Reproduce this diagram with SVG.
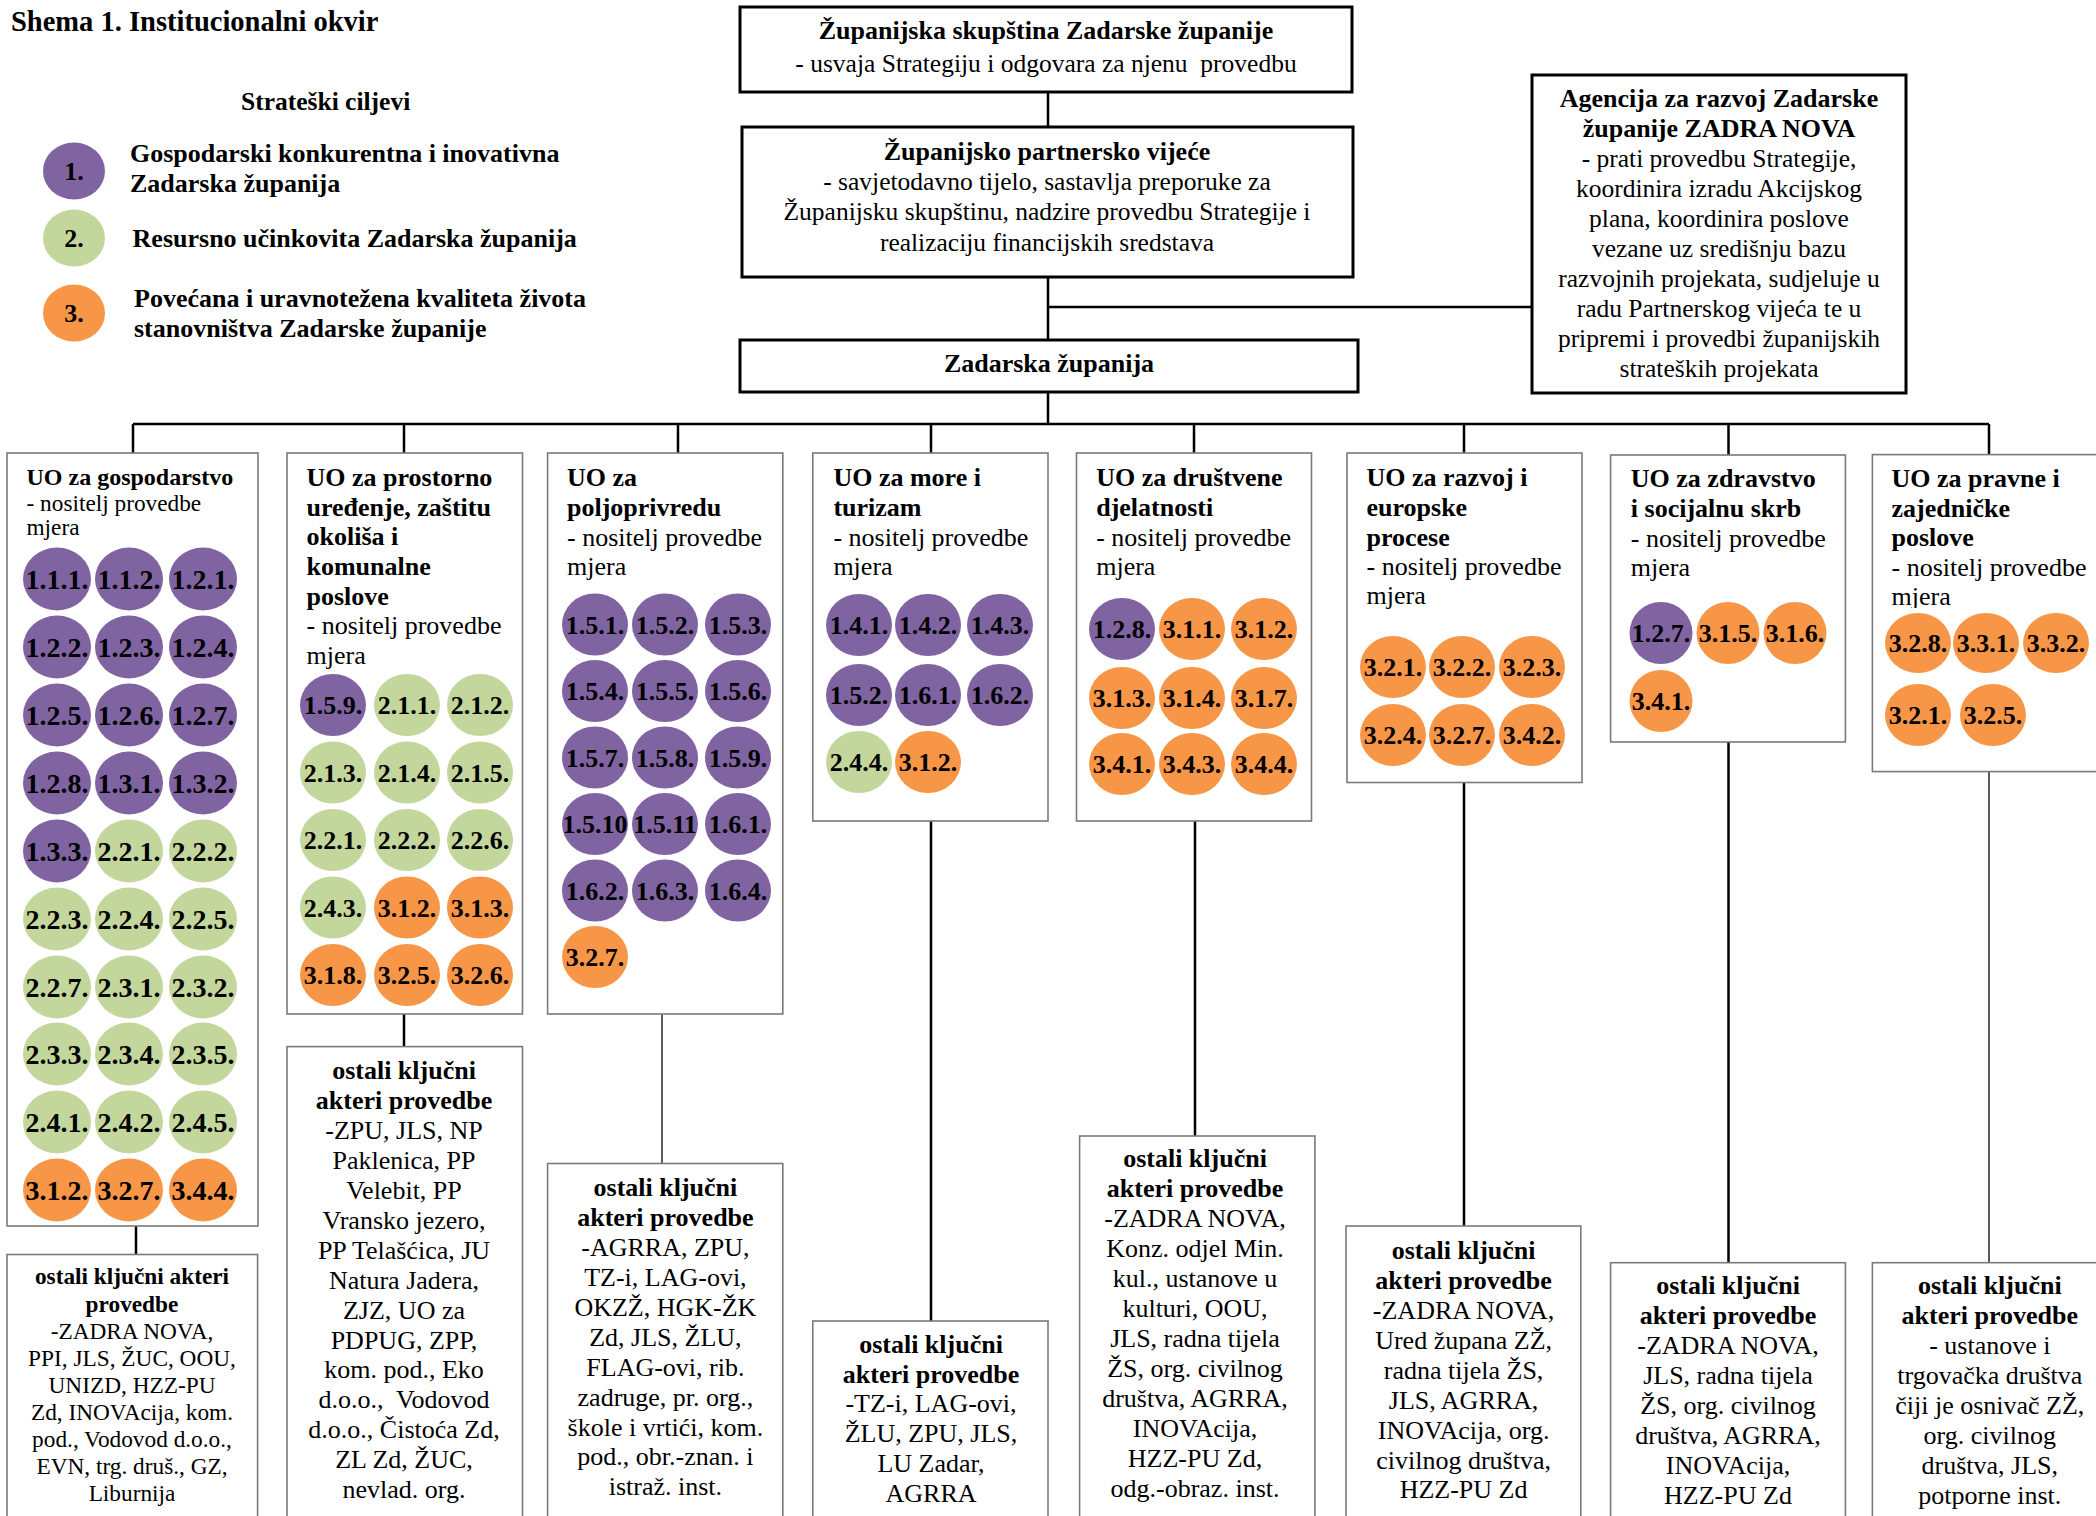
<svg xmlns="http://www.w3.org/2000/svg" width="2096" height="1516" viewBox="0 0 2096 1516">
<defs>
<style>
text{font-family:"Liberation Serif","Times New Roman",serif;fill:#000}
.b{font-weight:bold}
.c{text-anchor:middle}
.f26{font-size:26px}
.f25{font-size:25.5px}
.f23{font-size:23.3px}
.box{fill:#fff;stroke:#000;stroke-width:3}
.ub{fill:#fff;stroke:#7a7a7a;stroke-width:1.6}
.cn{stroke:#000;stroke-width:2.5;fill:none}
.cnt{stroke:#333;stroke-width:1.6;fill:none}
.p{fill:#8064A2}
.g{fill:#C3D69B}
.o{fill:#F79646}
.cl{font-weight:bold;font-size:26px;text-anchor:middle}
.cl1{font-weight:bold;font-size:28px;text-anchor:middle}
</style>
<clipPath id="clipAg"><rect x="1532" y="75" width="374" height="307"/></clipPath>
<clipPath id="clipU8"><rect x="1872" y="455" width="230" height="153"/></clipPath>
</defs>
<rect x="0" y="0" width="2096" height="1516" fill="#fff"/>

<g id="connectors">
<path class="cn" d="M1048 92V127M1048 277V340M1048 392V424M1048 307H1532"/>
<path class="cn" d="M133 424H1989"/>
<path class="cn" d="M133 424V453M404 424V453M678 424V453M931 424V453M1194 424V453M1464 424V453M1728.5 424V455M1989 424V455"/>
<path class="cn" d="M136 1226V1254.5M404 1014V1046.6M931 821V1321M1195 821V1136M1464 782.5V1226M1728.5 742V1262.7"/>
<path class="cnt" d="M662 1014V1163.5M1989 771.7V1262.7"/>
</g>

<g id="title">
<text class="b" x="11" y="31" style="font-size:28.5px">Shema 1. Institucionalni okvir</text>
</g>

<g id="legend">
<text class="b" x="241" y="110" style="font-size:25.5px">Strateški ciljevi</text>
<ellipse class="p" cx="74" cy="171" rx="31" ry="28.5"/>
<text class="b c f26" x="74" y="180">1.</text>
<ellipse class="g" cx="74" cy="238" rx="31" ry="28.5"/>
<text class="b c f26" x="74" y="247">2.</text>
<ellipse class="o" cx="74" cy="313" rx="31" ry="28.5"/>
<text class="b c f26" x="74" y="322">3.</text>
<text class="b f26" x="130" y="162">Gospodarski konkurentna i inovativna</text>
<text class="b f26" x="130" y="192">Zadarska županija</text>
<text class="b f26" x="132.6" y="247">Resursno učinkovita Zadarska županija</text>
<text class="b f26" x="134" y="307">Povećana i uravnotežena kvaliteta života</text>
<text class="b f26" x="134" y="337">stanovništva Zadarske županije</text>
</g>

<g id="skupstina">
<rect class="box" x="740" y="7" width="612" height="85"/>
<text class="b c f26" x="1046" y="39">Županijska skupština Zadarske županije</text>
<text class="c f25" x="1046" y="72" xml:space="preserve">- usvaja Strategiju i odgovara za njenu  provedbu</text>
</g>

<g id="partnersko">
<rect class="box" x="742" y="127" width="611" height="150"/>
<text class="b c f26" x="1047" y="160">Županijsko partnersko vijeće</text>
<text class="c f25" x="1047" y="190">- savjetodavno tijelo, sastavlja preporuke za</text>
<text class="c f25" x="1047" y="220">Županijsku skupštinu, nadzire provedbu Strategije i</text>
<text class="c f25" x="1047" y="251">realizaciju financijskih sredstava</text>
</g>

<g id="zadarska">
<rect class="box" x="740" y="340" width="618" height="52"/>
<text class="b c f26" x="1049" y="372">Zadarska županija</text>
</g>

<g id="agencija">
<rect class="box" x="1532" y="75" width="374" height="318"/>
<g clip-path="url(#clipAg)">
<text class="b c f26" x="1719" y="107">Agencija za razvoj Zadarske</text>
<text class="b c f26" x="1719" y="137">županije ZADRA NOVA</text>
<text class="c f25" x="1719" y="167">- prati provedbu Strategije,</text>
<text class="c f25" x="1719" y="197">koordinira izradu Akcijskog</text>
<text class="c f25" x="1719" y="227">plana, koordinira poslove</text>
<text class="c f25" x="1719" y="257">vezane uz središnju bazu</text>
<text class="c f25" x="1719" y="287">razvojnih projekata, sudjeluje u</text>
<text class="c f25" x="1719" y="317">radu Partnerskog vijeća te u</text>
<text class="c f25" x="1719" y="347">pripremi i provedbi županijskih</text>
<text class="c f25" x="1719" y="377">strateških projekata</text>
</g>
</g>

<g id="uo1">
<rect class="ub" x="7" y="453" width="251" height="773"/>
<text class="b" x="26.5" y="485" style="font-size:24px">UO za gospodarstvo</text>
<text class="f23" x="26.5" y="511">- nositelj provedbe</text>
<text class="f23" x="26.5" y="535">mjera</text>
<ellipse class="p" cx="57" cy="579" rx="34" ry="31.5"/><text class="cl1" x="57" y="589">1.1.1.</text>
<ellipse class="p" cx="129" cy="579" rx="34" ry="31.5"/><text class="cl1" x="129" y="589">1.1.2.</text>
<ellipse class="p" cx="203" cy="579" rx="34" ry="31.5"/><text class="cl1" x="203" y="589">1.2.1.</text>
<ellipse class="p" cx="57" cy="647" rx="34" ry="31.5"/><text class="cl1" x="57" y="657">1.2.2.</text>
<ellipse class="p" cx="129" cy="647" rx="34" ry="31.5"/><text class="cl1" x="129" y="657">1.2.3.</text>
<ellipse class="p" cx="203" cy="647" rx="34" ry="31.5"/><text class="cl1" x="203" y="657">1.2.4.</text>
<ellipse class="p" cx="57" cy="715" rx="34" ry="31.5"/><text class="cl1" x="57" y="725">1.2.5.</text>
<ellipse class="p" cx="129" cy="715" rx="34" ry="31.5"/><text class="cl1" x="129" y="725">1.2.6.</text>
<ellipse class="p" cx="203" cy="715" rx="34" ry="31.5"/><text class="cl1" x="203" y="725">1.2.7.</text>
<ellipse class="p" cx="57" cy="783" rx="34" ry="31.5"/><text class="cl1" x="57" y="793">1.2.8.</text>
<ellipse class="p" cx="129" cy="783" rx="34" ry="31.5"/><text class="cl1" x="129" y="793">1.3.1.</text>
<ellipse class="p" cx="203" cy="783" rx="34" ry="31.5"/><text class="cl1" x="203" y="793">1.3.2.</text>
<ellipse class="p" cx="57" cy="851" rx="34" ry="31.5"/><text class="cl1" x="57" y="861">1.3.3.</text>
<ellipse class="g" cx="129" cy="851" rx="34" ry="31.5"/><text class="cl1" x="129" y="861">2.2.1.</text>
<ellipse class="g" cx="203" cy="851" rx="34" ry="31.5"/><text class="cl1" x="203" y="861">2.2.2.</text>
<ellipse class="g" cx="57" cy="919" rx="34" ry="31.5"/><text class="cl1" x="57" y="929">2.2.3.</text>
<ellipse class="g" cx="129" cy="919" rx="34" ry="31.5"/><text class="cl1" x="129" y="929">2.2.4.</text>
<ellipse class="g" cx="203" cy="919" rx="34" ry="31.5"/><text class="cl1" x="203" y="929">2.2.5.</text>
<ellipse class="g" cx="57" cy="987" rx="34" ry="31.5"/><text class="cl1" x="57" y="997">2.2.7.</text>
<ellipse class="g" cx="129" cy="987" rx="34" ry="31.5"/><text class="cl1" x="129" y="997">2.3.1.</text>
<ellipse class="g" cx="203" cy="987" rx="34" ry="31.5"/><text class="cl1" x="203" y="997">2.3.2.</text>
<ellipse class="g" cx="57" cy="1054" rx="34" ry="31.5"/><text class="cl1" x="57" y="1064">2.3.3.</text>
<ellipse class="g" cx="129" cy="1054" rx="34" ry="31.5"/><text class="cl1" x="129" y="1064">2.3.4.</text>
<ellipse class="g" cx="203" cy="1054" rx="34" ry="31.5"/><text class="cl1" x="203" y="1064">2.3.5.</text>
<ellipse class="g" cx="57" cy="1122" rx="34" ry="31.5"/><text class="cl1" x="57" y="1132">2.4.1.</text>
<ellipse class="g" cx="129" cy="1122" rx="34" ry="31.5"/><text class="cl1" x="129" y="1132">2.4.2.</text>
<ellipse class="g" cx="203" cy="1122" rx="34" ry="31.5"/><text class="cl1" x="203" y="1132">2.4.5.</text>
<ellipse class="o" cx="57" cy="1190" rx="34" ry="31.5"/><text class="cl1" x="57" y="1200">3.1.2.</text>
<ellipse class="o" cx="129" cy="1190" rx="34" ry="31.5"/><text class="cl1" x="129" y="1200">3.2.7.</text>
<ellipse class="o" cx="203" cy="1190" rx="34" ry="31.5"/><text class="cl1" x="203" y="1200">3.4.4.</text>
</g>

<g id="uo2">
<rect class="ub" x="287" y="453" width="235.5" height="561"/>
<text class="b f26" x="306.5" y="486">UO za prostorno</text>
<text class="b f26" x="306.5" y="515.5">uređenje, zaštitu</text>
<text class="b f26" x="306.5" y="545">okoliša i</text>
<text class="b f26" x="306.5" y="575">komunalne</text>
<text class="b f26" x="306.5" y="604.5">poslove</text>
<text class="f26" x="306.5" y="634">- nositelj provedbe</text>
<text class="f26" x="306.5" y="664">mjera</text>
<ellipse class="p" cx="333" cy="705" rx="33" ry="31"/><text class="cl" x="333" y="714">1.5.9.</text>
<ellipse class="g" cx="407" cy="705" rx="33" ry="31"/><text class="cl" x="407" y="714">2.1.1.</text>
<ellipse class="g" cx="480" cy="705" rx="33" ry="31"/><text class="cl" x="480" y="714">2.1.2.</text>
<ellipse class="g" cx="333" cy="772.5" rx="33" ry="31"/><text class="cl" x="333" y="781.5">2.1.3.</text>
<ellipse class="g" cx="407" cy="772.5" rx="33" ry="31"/><text class="cl" x="407" y="781.5">2.1.4.</text>
<ellipse class="g" cx="480" cy="772.5" rx="33" ry="31"/><text class="cl" x="480" y="781.5">2.1.5.</text>
<ellipse class="g" cx="333" cy="840" rx="33" ry="31"/><text class="cl" x="333" y="849">2.2.1.</text>
<ellipse class="g" cx="407" cy="840" rx="33" ry="31"/><text class="cl" x="407" y="849">2.2.2.</text>
<ellipse class="g" cx="480" cy="840" rx="33" ry="31"/><text class="cl" x="480" y="849">2.2.6.</text>
<ellipse class="g" cx="333" cy="907.5" rx="33" ry="31"/><text class="cl" x="333" y="916.5">2.4.3.</text>
<ellipse class="o" cx="407" cy="907.5" rx="33" ry="31"/><text class="cl" x="407" y="916.5">3.1.2.</text>
<ellipse class="o" cx="480" cy="907.5" rx="33" ry="31"/><text class="cl" x="480" y="916.5">3.1.3.</text>
<ellipse class="o" cx="333" cy="975" rx="33" ry="31"/><text class="cl" x="333" y="984">3.1.8.</text>
<ellipse class="o" cx="407" cy="975" rx="33" ry="31"/><text class="cl" x="407" y="984">3.2.5.</text>
<ellipse class="o" cx="480" cy="975" rx="33" ry="31"/><text class="cl" x="480" y="984">3.2.6.</text>
</g>

<g id="uo3">
<rect class="ub" x="547.6" y="453" width="235.2" height="561"/>
<text class="b f26" x="567" y="486">UO za</text>
<text class="b f26" x="567" y="516">poljoprivredu</text>
<text class="f26" x="567" y="545.5">- nositelj provedbe</text>
<text class="f26" x="567" y="574.5">mjera</text>
<ellipse class="p" cx="595" cy="624.5" rx="33" ry="31"/><text class="cl" x="595" y="633.5">1.5.1.</text>
<ellipse class="p" cx="665" cy="624.5" rx="33" ry="31"/><text class="cl" x="665" y="633.5">1.5.2.</text>
<ellipse class="p" cx="738" cy="624.5" rx="33" ry="31"/><text class="cl" x="738" y="633.5">1.5.3.</text>
<ellipse class="p" cx="595" cy="691" rx="33" ry="31"/><text class="cl" x="595" y="700">1.5.4.</text>
<ellipse class="p" cx="665" cy="691" rx="33" ry="31"/><text class="cl" x="665" y="700">1.5.5.</text>
<ellipse class="p" cx="738" cy="691" rx="33" ry="31"/><text class="cl" x="738" y="700">1.5.6.</text>
<ellipse class="p" cx="595" cy="757.5" rx="33" ry="31"/><text class="cl" x="595" y="766.5">1.5.7.</text>
<ellipse class="p" cx="665" cy="757.5" rx="33" ry="31"/><text class="cl" x="665" y="766.5">1.5.8.</text>
<ellipse class="p" cx="738" cy="757.5" rx="33" ry="31"/><text class="cl" x="738" y="766.5">1.5.9.</text>
<ellipse class="p" cx="595" cy="824" rx="33" ry="31"/><text class="cl" x="595" y="833">1.5.10</text>
<ellipse class="p" cx="665" cy="824" rx="33" ry="31"/><text class="cl" x="665" y="833">1.5.11</text>
<ellipse class="p" cx="738" cy="824" rx="33" ry="31"/><text class="cl" x="738" y="833">1.6.1.</text>
<ellipse class="p" cx="595" cy="890.5" rx="33" ry="31"/><text class="cl" x="595" y="899.5">1.6.2.</text>
<ellipse class="p" cx="665" cy="890.5" rx="33" ry="31"/><text class="cl" x="665" y="899.5">1.6.3.</text>
<ellipse class="p" cx="738" cy="890.5" rx="33" ry="31"/><text class="cl" x="738" y="899.5">1.6.4.</text>
<ellipse class="o" cx="595" cy="957" rx="33" ry="31"/><text class="cl" x="595" y="966">3.2.7.</text>
</g>

<g id="uo4">
<rect class="ub" x="812.8" y="453" width="235.2" height="368"/>
<text class="b f26" x="833.4" y="486">UO za more i</text>
<text class="b f26" x="833.4" y="516">turizam</text>
<text class="f26" x="833.4" y="545.5">- nositelj provedbe</text>
<text class="f26" x="833.4" y="574.5">mjera</text>
<ellipse class="p" cx="859" cy="625" rx="33" ry="31"/><text class="cl" x="859" y="634">1.4.1.</text>
<ellipse class="p" cx="928" cy="625" rx="33" ry="31"/><text class="cl" x="928" y="634">1.4.2.</text>
<ellipse class="p" cx="1000" cy="625" rx="33" ry="31"/><text class="cl" x="1000" y="634">1.4.3.</text>
<ellipse class="p" cx="859" cy="695" rx="33" ry="31"/><text class="cl" x="859" y="704">1.5.2.</text>
<ellipse class="p" cx="928" cy="695" rx="33" ry="31"/><text class="cl" x="928" y="704">1.6.1.</text>
<ellipse class="p" cx="1000" cy="695" rx="33" ry="31"/><text class="cl" x="1000" y="704">1.6.2.</text>
<ellipse class="g" cx="859" cy="762" rx="33" ry="31"/><text class="cl" x="859" y="771">2.4.4.</text>
<ellipse class="o" cx="928" cy="762" rx="33" ry="31"/><text class="cl" x="928" y="771">3.1.2.</text>
</g>

<g id="uo5">
<rect class="ub" x="1076.5" y="453" width="235" height="368"/>
<text class="b f26" x="1096.2" y="486">UO za društvene</text>
<text class="b f26" x="1096.2" y="516">djelatnosti</text>
<text class="f26" x="1096.2" y="545.5">- nositelj provedbe</text>
<text class="f26" x="1096.2" y="574.5">mjera</text>
<ellipse class="p" cx="1122" cy="629" rx="33" ry="31"/><text class="cl" x="1122" y="638">1.2.8.</text>
<ellipse class="o" cx="1192" cy="629" rx="33" ry="31"/><text class="cl" x="1192" y="638">3.1.1.</text>
<ellipse class="o" cx="1264" cy="629" rx="33" ry="31"/><text class="cl" x="1264" y="638">3.1.2.</text>
<ellipse class="o" cx="1122" cy="698" rx="33" ry="31"/><text class="cl" x="1122" y="707">3.1.3.</text>
<ellipse class="o" cx="1192" cy="698" rx="33" ry="31"/><text class="cl" x="1192" y="707">3.1.4.</text>
<ellipse class="o" cx="1264" cy="698" rx="33" ry="31"/><text class="cl" x="1264" y="707">3.1.7.</text>
<ellipse class="o" cx="1122" cy="764" rx="33" ry="31"/><text class="cl" x="1122" y="773">3.4.1.</text>
<ellipse class="o" cx="1192" cy="764" rx="33" ry="31"/><text class="cl" x="1192" y="773">3.4.3.</text>
<ellipse class="o" cx="1264" cy="764" rx="33" ry="31"/><text class="cl" x="1264" y="773">3.4.4.</text>
</g>

<g id="uo6">
<rect class="ub" x="1347" y="453" width="235" height="329.5"/>
<text class="b f26" x="1366.5" y="486">UO za razvoj i</text>
<text class="b f26" x="1366.5" y="516">europske</text>
<text class="b f26" x="1366.5" y="545.5">procese</text>
<text class="f26" x="1366.5" y="575">- nositelj provedbe</text>
<text class="f26" x="1366.5" y="604">mjera</text>
<ellipse class="o" cx="1393" cy="667" rx="33" ry="31"/><text class="cl" x="1393" y="676">3.2.1.</text>
<ellipse class="o" cx="1462" cy="667" rx="33" ry="31"/><text class="cl" x="1462" y="676">3.2.2.</text>
<ellipse class="o" cx="1532" cy="667" rx="33" ry="31"/><text class="cl" x="1532" y="676">3.2.3.</text>
<ellipse class="o" cx="1393" cy="735" rx="33" ry="31"/><text class="cl" x="1393" y="744">3.2.4.</text>
<ellipse class="o" cx="1462" cy="735" rx="33" ry="31"/><text class="cl" x="1462" y="744">3.2.7.</text>
<ellipse class="o" cx="1532" cy="735" rx="33" ry="31"/><text class="cl" x="1532" y="744">3.4.2.</text>
</g>

<g id="uo7">
<rect class="ub" x="1610.6" y="455" width="234.8" height="287"/>
<text class="b f26" x="1630.8" y="487">UO za zdravstvo</text>
<text class="b f26" x="1630.8" y="517">i socijalnu skrb</text>
<text class="f26" x="1630.8" y="546.8">- nositelj provedbe</text>
<text class="f26" x="1630.8" y="576">mjera</text>
<ellipse class="p" cx="1661" cy="633" rx="31.5" ry="31"/><text class="cl" x="1661" y="642">1.2.7.</text>
<ellipse class="o" cx="1728" cy="633" rx="31.5" ry="31"/><text class="cl" x="1728" y="642">3.1.5.</text>
<ellipse class="o" cx="1795" cy="633" rx="31.5" ry="31"/><text class="cl" x="1795" y="642">3.1.6.</text>
<ellipse class="o" cx="1661" cy="701" rx="31.5" ry="31"/><text class="cl" x="1661" y="710">3.4.1.</text>
</g>

<g id="uo8">
<rect class="ub" x="1872.4" y="454.6" width="230" height="317"/>
<g clip-path="url(#clipU8)">
<text class="b f26" x="1891.5" y="487">UO za pravne i</text>
<text class="b f26" x="1891.5" y="517">zajedničke</text>
<text class="b f26" x="1891.5" y="545.7">poslove</text>
<text class="f26" x="1891.5" y="576">- nositelj provedbe</text>
<text class="f26" x="1891.5" y="605">mjera</text>
</g>
<ellipse class="o" cx="1918" cy="643" rx="33" ry="30"/><text class="cl" x="1918" y="652">3.2.8.</text>
<ellipse class="o" cx="1986" cy="643" rx="33" ry="30"/><text class="cl" x="1986" y="652">3.3.1.</text>
<ellipse class="o" cx="2056" cy="643" rx="33" ry="30"/><text class="cl" x="2056" y="652">3.3.2.</text>
<ellipse class="o" cx="1918" cy="715" rx="33" ry="31"/><text class="cl" x="1918" y="724">3.2.1.</text>
<ellipse class="o" cx="1993" cy="715" rx="33" ry="31"/><text class="cl" x="1993" y="724">3.2.5.</text>
</g>

<g id="ak1">
<rect class="ub" x="7" y="1254.5" width="250.6" height="270"/>
<text class="b c f23" x="132" y="1284">ostali ključni akteri</text>
<text class="b c f23" x="132" y="1311.5">provedbe</text>
<text class="c f23" x="132" y="1339">-ZADRA NOVA,</text>
<text class="c f23" x="132" y="1366">PPI, JLS, ŽUC, OOU,</text>
<text class="c f23" x="132" y="1393">UNIZD, HZZ-PU</text>
<text class="c f23" x="132" y="1420">Zd, INOVAcija, kom.</text>
<text class="c f23" x="132" y="1447">pod., Vodovod d.o.o.,</text>
<text class="c f23" x="132" y="1474">EVN, trg. druš., GZ,</text>
<text class="c f23" x="132" y="1501">Liburnija</text>
</g>

<g id="ak2">
<rect class="ub" x="287" y="1046.6" width="235.5" height="480"/>
<text class="b c f26" x="404" y="1079">ostali ključni</text>
<text class="b c f26" x="404" y="1109">akteri provedbe</text>
<text class="c f26" x="404" y="1139">-ZPU, JLS, NP</text>
<text class="c f26" x="404" y="1169">Paklenica, PP</text>
<text class="c f26" x="404" y="1199">Velebit, PP</text>
<text class="c f26" x="404" y="1229">Vransko jezero,</text>
<text class="c f26" x="404" y="1259">PP Telašćica, JU</text>
<text class="c f26" x="404" y="1289">Natura Jadera,</text>
<text class="c f26" x="404" y="1319">ZJZ, UO za</text>
<text class="c f26" x="404" y="1349">PDPUG, ZPP,</text>
<text class="c f26" x="404" y="1378">kom. pod., Eko</text>
<text class="c f26" x="404" y="1408" xml:space="preserve">d.o.o.,  Vodovod</text>
<text class="c f26" x="404" y="1438">d.o.o., Čistoća Zd,</text>
<text class="c f26" x="404" y="1468">ZL Zd, ŽUC,</text>
<text class="c f26" x="404" y="1498">nevlad. org.</text>
</g>

<g id="ak3">
<rect class="ub" x="547.6" y="1163.5" width="235.2" height="360"/>
<text class="b c f26" x="665.4" y="1196">ostali ključni</text>
<text class="b c f26" x="665.4" y="1226">akteri provedbe</text>
<text class="c f26" x="665.4" y="1256">-AGRRA, ZPU,</text>
<text class="c f26" x="665.4" y="1286">TZ-i, LAG-ovi,</text>
<text class="c f26" x="665.4" y="1316">OKZŽ, HGK-ŽK</text>
<text class="c f26" x="665.4" y="1346">Zd, JLS, ŽLU,</text>
<text class="c f26" x="665.4" y="1376">FLAG-ovi, rib.</text>
<text class="c f26" x="665.4" y="1406">zadruge, pr. org.,</text>
<text class="c f26" x="665.4" y="1436">škole i vrtići, kom.</text>
<text class="c f26" x="665.4" y="1465">pod., obr.-znan. i</text>
<text class="c f26" x="665.4" y="1495">istraž. inst.</text>
</g>

<g id="ak4">
<rect class="ub" x="812.8" y="1321" width="235.2" height="210"/>
<text class="b c f26" x="931" y="1352.6">ostali ključni</text>
<text class="b c f26" x="931" y="1382.6">akteri provedbe</text>
<text class="c f26" x="931" y="1412.4">-TZ-i, LAG-ovi,</text>
<text class="c f26" x="931" y="1442">ŽLU, ZPU, JLS,</text>
<text class="c f26" x="931" y="1472">LU Zadar,</text>
<text class="c f26" x="931" y="1502">AGRRA</text>
</g>

<g id="ak5">
<rect class="ub" x="1079.6" y="1136" width="235.3" height="390"/>
<text class="b c f26" x="1195" y="1167">ostali ključni</text>
<text class="b c f26" x="1195" y="1197">akteri provedbe</text>
<text class="c f26" x="1195" y="1227">-ZADRA NOVA,</text>
<text class="c f26" x="1195" y="1257">Konz. odjel Min.</text>
<text class="c f26" x="1195" y="1287">kul., ustanove u</text>
<text class="c f26" x="1195" y="1317">kulturi, OOU,</text>
<text class="c f26" x="1195" y="1347">JLS, radna tijela</text>
<text class="c f26" x="1195" y="1377">ŽS, org. civilnog</text>
<text class="c f26" x="1195" y="1407">društva, AGRRA,</text>
<text class="c f26" x="1195" y="1437">INOVAcija,</text>
<text class="c f26" x="1195" y="1467">HZZ-PU Zd,</text>
<text class="c f26" x="1195" y="1497">odg.-obraz. inst.</text>
</g>

<g id="ak6">
<rect class="ub" x="1346" y="1226" width="234.8" height="300"/>
<text class="b c f26" x="1463.6" y="1258.5">ostali ključni</text>
<text class="b c f26" x="1463.6" y="1288.5">akteri provedbe</text>
<text class="c f26" x="1463.6" y="1318.5">-ZADRA NOVA,</text>
<text class="c f26" x="1463.6" y="1348.5">Ured župana ZŽ,</text>
<text class="c f26" x="1463.6" y="1378.5">radna tijela ŽS,</text>
<text class="c f26" x="1463.6" y="1408.5">JLS, AGRRA,</text>
<text class="c f26" x="1463.6" y="1438.5">INOVAcija, org.</text>
<text class="c f26" x="1463.6" y="1468.5">civilnog društva,</text>
<text class="c f26" x="1463.6" y="1498">HZZ-PU Zd</text>
</g>

<g id="ak7">
<rect class="ub" x="1610.6" y="1262.7" width="234.8" height="270"/>
<text class="b c f26" x="1728" y="1294">ostali ključni</text>
<text class="b c f26" x="1728" y="1324">akteri provedbe</text>
<text class="c f26" x="1728" y="1354">-ZADRA NOVA,</text>
<text class="c f26" x="1728" y="1384">JLS, radna tijela</text>
<text class="c f26" x="1728" y="1414">ŽS, org. civilnog</text>
<text class="c f26" x="1728" y="1444">društva, AGRRA,</text>
<text class="c f26" x="1728" y="1474">INOVAcija,</text>
<text class="c f26" x="1728" y="1504">HZZ-PU Zd</text>
</g>

<g id="ak8">
<rect class="ub" x="1872.4" y="1262.7" width="230" height="270"/>
<text class="b c f26" x="1989.8" y="1294">ostali ključni</text>
<text class="b c f26" x="1989.8" y="1324">akteri provedbe</text>
<text class="c f26" x="1989.8" y="1354">- ustanove i</text>
<text class="c f26" x="1989.8" y="1384">trgovačka društva</text>
<text class="c f26" x="1989.8" y="1414">čiji je osnivač ZŽ,</text>
<text class="c f26" x="1989.8" y="1444">org. civilnog</text>
<text class="c f26" x="1989.8" y="1474">društva, JLS,</text>
<text class="c f26" x="1989.8" y="1504">potporne inst.</text>
</g>
</svg>
